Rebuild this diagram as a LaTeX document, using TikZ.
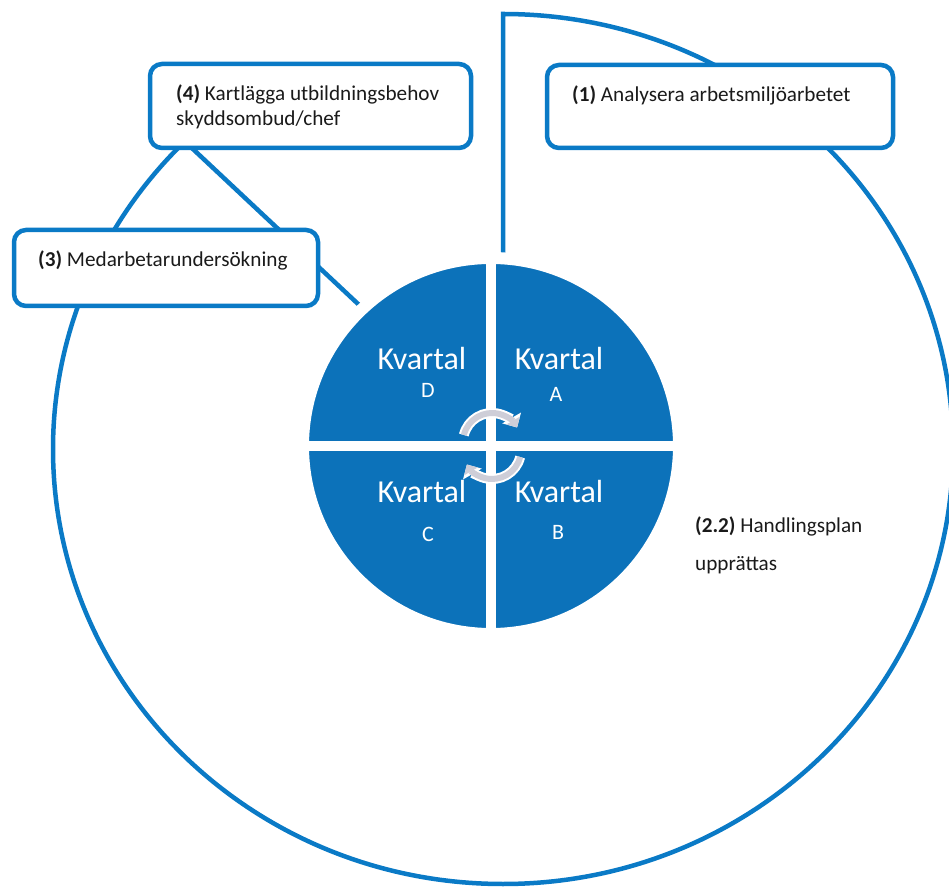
\documentclass[tikz,border=0pt]{standalone}
\usepackage{fontspec}
\setmainfont{Carlito}
\usetikzlibrary{arrows.meta}

\definecolor{ringblue}{RGB}{10,122,198}
\definecolor{discblue}{RGB}{12,114,186}
\definecolor{turngray}{RGB}{206,206,216}
\definecolor{inkgray}{RGB}{26,26,26}

\begin{document}
\begin{tikzpicture}[x=1pt,y=1pt,
  box/.style={draw=ringblue,line width=4.5pt,fill=white,rounded corners=12pt,
    inner sep=0pt,outer sep=0pt},
  boxtext/.style={anchor=base west,inner sep=0pt,text=inkgray,
    font=\fontsize{21.2}{25}\selectfont},
  quarter/.style={anchor=base,inner sep=0pt,text=white,
    font=\fontsize{32}{38}\selectfont},
  letter/.style={anchor=base,inner sep=0pt,text=white,
    font=\fontsize{22}{26}\selectfont}]
\useasboundingbox (0,0) rectangle (949,886);

% the year ring, open between the top and the upper left
\coordinate (hub) at (503,446);
\coordinate (top) at (503,872);
\draw [ringblue,line width=4.5pt] (hub) -- (top)
   arc [start angle=90,end angle=-225,x radius=450,y radius=435] -- cycle;

% the four quarters
\node [circle,fill=discblue,draw=white,line width=12pt,minimum size=376pt,
  inner sep=0pt] (disc) at (491,440) {};
\draw [white,line width=10pt] (disc.north) -- (disc.south);
\draw [white,line width=10pt] (disc.west) -- (disc.east);

\foreach \q/\qx/\qy/\lx/\ly in {D/422/516/428/488, A/559/516/556/484,
                                C/422/383/428/344, B/559/383/558/346} {
  \node [quarter] (kv\q) at (\qx,\qy) {Kvartal};
  \node [letter] (lt\q) at (\lx,\ly) {\q};
}

% turning arrows in the middle
\foreach \cy/\sa/\ea in {444/166/30, 436/-14/-150} {
  \draw [white,line width=10pt,-{Triangle[width=21pt,length=11pt]}]
    (492,\cy) ++(\sa:29) arc [start angle=\sa,end angle=\ea,radius=29];
  \draw [turngray,line width=6pt,-{Triangle[width=15pt,length=8pt]}]
    (492,\cy) ++(\sa:29) arc [start angle=\sa,end angle=\ea,radius=29];
}

% steps
\node [box,minimum width=346pt,minimum height=83pt] (analys) at (720,779.5) {};
\node [box,minimum width=321pt,minimum height=84pt] (behov) at (310.5,780) {};
\node [box,minimum width=304pt,minimum height=76pt] (enkat) at (166,618) {};

\node [boxtext] (analystext) at (572,784) {\textbf{(1)} Analysera arbetsmiljöarbetet};
\node [boxtext] (behovtext) at (176,785) {\textbf{(4)} Kartlägga utbildningsbehov};
\node [boxtext] (behovtext2) at (176,760) {skyddsombud/chef};
\node [boxtext] (enkattext) at (38,619) {\textbf{(3)} Medarbetarundersökning};
\node [boxtext] (plantext) at (695,353) {\textbf{(2.2)} Handlingsplan};
\node [boxtext] (plantext2) at (695,315) {upprättas};
\end{tikzpicture}
\end{document}
